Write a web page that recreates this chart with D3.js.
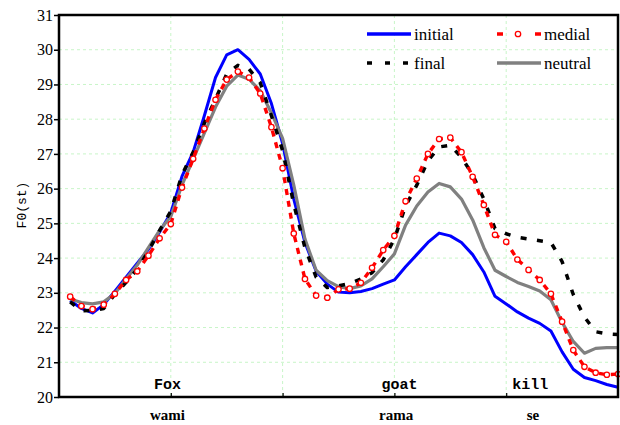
<!DOCTYPE html>
<html>
<head>
<meta charset="utf-8">
<script src="https://cdn.jsdelivr.net/npm/d3@7"></script>
<style>
  body { margin: 0; background: #fff; }
</style>
</head>
<body>
<script>
// F0 contours, one value every 2 time units (2..100)
var times = d3.range(2, 101, 2);

var initial = [22.78, 22.55, 22.42, 22.66, 23.05, 23.45, 23.85, 24.25, 24.75, 25.3,
  26.35, 27.05, 28.1, 29.2, 29.85, 30.0, 29.72, 29.3, 28.45, 27.3,
  25.7, 24.45, 23.62, 23.25, 23.02, 23.0, 23.04, 23.12, 23.25, 23.37,
  23.75, 24.1, 24.45, 24.72, 24.64, 24.45, 24.1, 23.6, 22.9, 22.68,
  22.45, 22.27, 22.12, 21.9, 21.3, 20.8, 20.56, 20.47, 20.36, 20.28];

var medial = [22.89, 22.62, 22.53, 22.66, 22.97, 23.37, 23.62, 24.07, 24.57, 24.98,
  26.03, 26.86, 27.73, 28.56, 29.14, 29.37, 29.2, 28.74, 27.77, 26.59,
  24.71, 23.4, 22.92, 22.86, 23.1, 23.12, 23.29, 23.72, 24.23, 24.64,
  25.64, 26.29, 27.0, 27.43, 27.47, 27.05, 26.34, 25.53, 24.67, 24.47,
  23.96, 23.66, 23.37, 22.97, 22.17, 21.35, 20.87, 20.7, 20.64, 20.66];

var final = [22.74, 22.48, 22.49, 22.55, 22.96, 23.3, 23.68, 24.2, 24.8, 25.35,
  26.4, 27.05, 27.88, 28.58, 29.3, 29.55, 29.44, 29.05, 28.1, 27.1,
  25.55, 24.3, 23.45, 23.15, 23.2, 23.27, 23.4, 23.58, 23.95, 24.55,
  25.5, 26.1, 26.8, 27.2, 27.25, 26.9, 26.4, 25.7, 24.85, 24.7,
  24.6, 24.55, 24.5, 24.45, 23.9, 22.95, 22.3, 21.88, 21.82, 21.8];

var neutral = [22.82, 22.72, 22.68, 22.74, 22.98, 23.4, 23.8, 24.3, 24.8, 25.2,
  26.1, 26.85, 27.6, 28.35, 28.95, 29.27, 29.15, 28.82, 28.18, 27.45,
  26.1, 24.55, 23.65, 23.35, 23.18, 23.12, 23.2, 23.4, 23.75, 24.12,
  24.95, 25.5, 25.9, 26.15, 26.05, 25.7, 25.1, 24.3, 23.65, 23.47,
  23.3, 23.18, 23.05, 22.8, 22.15, 21.6, 21.26, 21.4, 21.42, 21.42];

var yTicks = d3.range(20, 32, 1);
var xGrid = [20, 40, 60, 80];

// word labels inside the plot and syllable labels under it
var words = ["Fox", "goat", "kill"];
var wordPos = [19.4, 60.9, 84.3];
var syllables = ["wami", "rama", "se"];
var syllablePos = [19.4, 60.3, 84.8];

var series = [
  {name: "initial", values: initial, color: "#0000ff", dash: null, width: 3},
  {name: "neutral", values: neutral, color: "#808080", dash: null, width: 3.2},
  {name: "final", values: final, color: "#000000", dash: "6,10.5", width: 3.5},
  {name: "medial", values: medial, color: "#ff0000", dash: "6,6", width: 3.4, marker: true}
];

var width = 620, height = 425;
var margin = {top: 15, right: 2, bottom: 28, left: 59};
var w = width - margin.left - margin.right;
var h = height - margin.top - margin.bottom;

var svg = d3.select("body").append("svg")
  .attr("width", width)
  .attr("height", height);

var g = svg.append("g")
  .attr("transform", "translate(" + margin.left + "," + margin.top + ")");

var x = d3.scaleLinear().domain([0, 100]).range([0, w]);
var y = d3.scaleLinear().domain([20, 31]).range([h, 0]);

// grid
g.append("g").selectAll("line").data(yTicks.slice(1, -1)).enter().append("line")
  .attr("x1", 0).attr("x2", w)
  .attr("y1", function(d){ return y(d); }).attr("y2", function(d){ return y(d); })
  .attr("stroke", "#c8f5c8").attr("stroke-width", 1).attr("stroke-dasharray", "3,3");
g.append("g").selectAll("line").data(xGrid).enter().append("line")
  .attr("y1", 0).attr("y2", h)
  .attr("x1", function(d){ return x(d); }).attr("x2", function(d){ return x(d); })
  .attr("stroke", "#c8f5c8").attr("stroke-width", 1).attr("stroke-dasharray", "3,3");

// word labels
g.append("g").selectAll("text").data(words).enter().append("text")
  .attr("x", function(d, i){ return x(wordPos[i]); })
  .attr("y", h - 8)
  .attr("text-anchor", "middle")
  .style("font-family", "Liberation Mono, monospace")
  .style("font-weight", "bold")
  .style("font-size", "15px")
  .text(function(d){ return d; });

// curves
var line = d3.line()
  .x(function(d, i){ return x(times[i]); })
  .y(function(d){ return y(d); });

series.forEach(function(s){
  g.append("path")
    .datum(s.values)
    .attr("d", line)
    .attr("fill", "none")
    .attr("stroke", s.color)
    .attr("stroke-width", s.width)
    .attr("stroke-dasharray", s.dash)
    .attr("stroke-linejoin", "round");
  if (s.marker) {
    g.append("g").selectAll("circle").data(s.values).enter().append("circle")
      .attr("cx", function(d, i){ return x(times[i]); })
      .attr("cy", function(d){ return y(d); })
      .attr("r", 2.7)
      .attr("fill", "#fff")
      .attr("stroke", s.color)
      .attr("stroke-width", 1.3);
  }
});

// axes
var yAxis = g.append("g")
  .call(d3.axisLeft(y).tickValues(yTicks).tickSize(5).tickSizeOuter(0).tickFormat(d3.format("d")));
yAxis.select(".domain").remove();
yAxis.selectAll("line").attr("stroke-width", 1.5);
yAxis.selectAll("text")
  .attr("x", -6)
  .style("font-family", "Liberation Serif, serif")
  .style("font-size", "16px")
  .attr("fill", "#000");

var xAxis = g.append("g")
  .attr("transform", "translate(0," + h + ")")
  .call(d3.axisBottom(x).tickValues(xGrid).tickSize(-4).tickFormat(""));
xAxis.select(".domain").remove();
xAxis.selectAll("line").attr("stroke-width", 1.2);

// frame
g.append("rect")
  .attr("x", 0).attr("y", 0).attr("width", w).attr("height", h)
  .attr("fill", "none").attr("stroke", "#000").attr("stroke-width", 2.5);

// syllables under the axis
g.append("g").selectAll("text").data(syllables).enter().append("text")
  .attr("x", function(d, i){ return x(syllablePos[i]); })
  .attr("y", h + 23)
  .attr("text-anchor", "middle")
  .style("font-family", "Liberation Serif, serif")
  .style("font-weight", "bold")
  .style("font-size", "15px")
  .text(function(d){ return d; });

// y axis title
svg.append("text")
  .attr("transform", "translate(26,205) rotate(-90)")
  .attr("text-anchor", "middle")
  .style("font-family", "Liberation Mono, monospace")
  .style("font-size", "13px")
  .text("F0(st)");

// legend
var legendItems = [
  {name: "initial", color: "#0000ff", dash: null, x: 367, y: 34},
  {name: "medial", color: "#ff0000", dash: "6,32", x: 497, y: 34, marker: true},
  {name: "final", color: "#000000", dash: "5,13", x: 367, y: 63},
  {name: "neutral", color: "#808080", dash: null, x: 497, y: 63}
];
var legend = svg.append("g");
legendItems.forEach(function(d){
  legend.append("line")
    .attr("x1", d.x).attr("x2", d.x + 44)
    .attr("y1", d.y).attr("y2", d.y)
    .attr("stroke", d.color).attr("stroke-width", 3.5)
    .attr("stroke-dasharray", d.dash);
  if (d.marker) {
    legend.append("circle")
      .attr("cx", d.x + 21).attr("cy", d.y).attr("r", 2.7)
      .attr("fill", "#fff").attr("stroke", d.color).attr("stroke-width", 1.3);
  }
  legend.append("text")
    .attr("x", d.x + 47).attr("y", d.y + 6)
    .style("font-family", "Liberation Serif, serif")
    .style("font-size", "17px")
    .text(d.name);
});
</script>
</body>
</html>
